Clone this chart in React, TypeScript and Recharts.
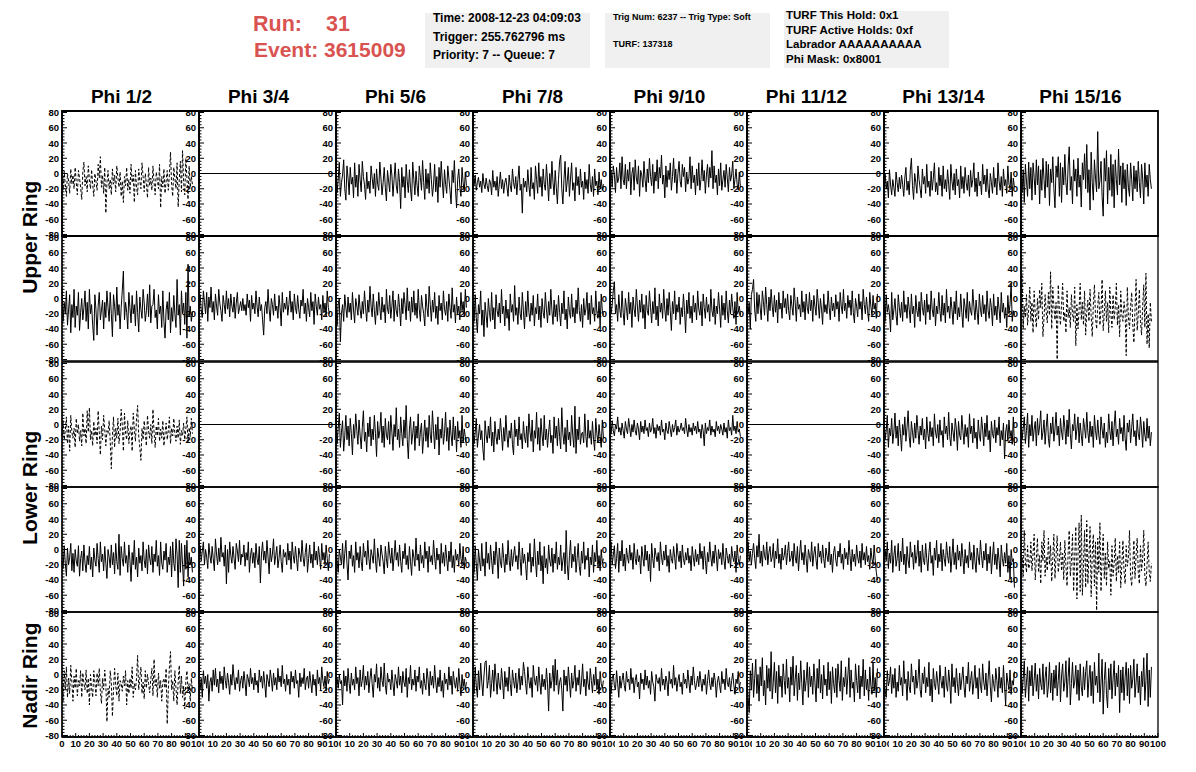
import { LineChart, Line, XAxis, YAxis, ReferenceArea } from "recharts";

// sample spacing of the waveforms (ns)
const DT = 0.8;

// channels that were off are flat at zero across the window
const FLAT_T = [0, 100];
const FLAT_V = [0, 0];

// --- Upper ring, top antennas ---
const UT_12 = [
  -5, -22, 3, -15, -30, 0, -10, -26, 6, -14,
  -2, -20, 8, -12, -28, 4, -6, -18, -34, 2,
  15, -16, -4, -24, 10, -8, -20, 5, -14, -30,
  0, -10, -22, 12, -6, 22, -18, -2, -26, 8,
  -52, -12, 4, -20, -8, -28, 6, -14, -2, -24,
  10, -6, -18, 2, -30, -10, -38, -4, -16, 8,
  -22, -8, -26, 12, -12, -2, -38, 4, -18, -28,
  6, -10, -20, 14, -4, -24, 0, -14, -32, 8,
  -16, -6, -22, 10, -12, -28, 2, -8, -20, 12,
  -45, -4, -18, 6, -26, -10, 4, -22, -2, 28,
  -14, -30, 8, -6, -20, 14, -44, -8, 16, -24,
  30, -12, -28, 20, -6, -34, 10, -18, -4, -14,
];
const UT_56 = [
  5, -25, -8, 15, -30, -12, -2, 18, -20, -35,
  10, -6, -28, 8, -14, -5, -32, 14, -18, -2,
  -30, 12, -8, -24, 16, -4, -15, -34, 2, -20,
  -10, -26, 10, -6, -20, 0, -30, 6, -14, -22,
  15, -6, -28, -12, 8, -18, -36, 4, -10, -24,
  12, -2, -30, -8, 14, -16, -26, 6, -12, -46,
  8, -18, -4, -32, 12, -10, -25, 5, -20, -36,
  15, -8, -28, 3, -16, -30, 10, -5, -22, 17,
  -12, -34, 6, -20, 0, -26, 14, -8, -30, -15,
  12, -24, -4, -38, 8, -18, 16, -10, -32, 5,
  -14, -26, 10, -6, -22, -40, 4, -12, 17, -20,
  -45, -8, 6, -18, -30, 8, -12, -24, 2, -16,
];
const UT_78 = [
  -8, -15, -2, -22, -12, -5, -18, -10, -25, 0,
  -14, -20, -6, -16, -24, -8, -12, -28, 4, -18,
  -10, -22, -4, -30, -14, 2, -20, -8, -26, -12,
  -6, -18, -30, -2, -16, -24, 6, -12, -20, -4,
  -28, -8, 10, -22, -14, -52, -6, -18, -10, -24,
  5, -16, -30, 8, -20, -12, -34, 10, -8, -26,
  14, -18, -4, -30, 6, -14, -22, 12, -10, -36,
  0, -20, 16, -12, -28, 4, -18, -40, -8, 16,
  24, -20, -40, -8, 16, -24, -10, 8, -30, -6,
  14, -22, -12, -36, 8, -16, -4, -28, 6, -18,
  -10, -34, 2, -20, -8, -26, 12, -14, -24, -4,
  -30, 6, -16, -10, -28, 2, -20, -8, -22, -14,
];
const UT_910 = [
  -5, 4, -18, 10, -2, -25, 8, -12, -6, 14,
  -20, 22, -8, -15, 12, -20, 5, -10, 15, -28,
  0, 8, -22, 18, -6, -14, 10, -30, 4, -2,
  -18, 16, -8, -24, 6, -12, 20, -4, -16, 12,
  -26, 2, -10, 18, -20, 8, -6, 24, -14, -2,
  -32, 10, -18, 4, -8, 14, -22, -4, 20, -12,
  6, -26, 0, 16, -10, -18, 12, -4, 8, -24,
  2, -14, -6, 22, -20, 10, -12, -2, -28, 6,
  -16, 14, -22, -8, 18, -10, 4, -26, -2, 12,
  -18, 8, -6, 30, -20, 10, -12, -2, -28, 6,
  -16, 14, -22, -8, 4, -18, 12, -6, -24, 8,
  -10, -2, 16, -20, -8, 6, -14, -22, 2, -18,
];
const UT_1314 = [
  -25, 0, -20, -10, -32, 5, -15, -28, -8, -18,
  -30, 2, -12, -24, -5, -20, -2, -14, -30, -6,
  8, -22, -10, -28, 4, 20, -16, -34, 0, -12,
  -26, 10, -8, -20, -32, 6, -14, -4, -26, 12,
  -18, -10, -30, 3, -22, -6, 14, -24, -12, -28,
  8, -16, -2, -30, 10, -20, -8, -24, 5, -14,
  -34, 12, -10, -22, 0, -28, 6, -16, -8, -32,
  10, -20, -4, -26, 8, -12, -22, -2, -30, 4,
  -18, -8, 14, -24, -6, -30, 2, -16, -10, -28,
  12, -14, -2, -24, 6, -20, -32, 0, -12, -26,
  8, -18, -6, -28, 14, -10, -22, -4, -30, 6,
  -16, -8, -26, 10, -14, -20, 2, -30, -6, -18,
];
const UT_1516 = [
  10, -25, 5, -38, 12, -10, -30, 15, -20, 8,
  -35, 14, -5, -28, 18, -15, 10, -40, 5, -22,
  20, -8, -32, 16, -18, 12, -42, 6, -12, 22,
  -20, -45, 10, -5, 22, -30, 14, -38, 8, -15,
  25, -12, -28, 10, 35, -22, -4, -40, 18, -10,
  6, -30, 20, -18, -2, -44, 14, -8, 26, -20,
  38, -25, 5, -48, 28, -12, -35, 18, -6, -24,
  55, -20, -10, 16, -30, -56, 20, -10, 30, -40,
  8, -22, 25, -30, 12, -45, 18, -8, -28, 32,
  -15, 10, -38, 14, -20, 5, -42, 12, -18, -30,
  14, -8, -36, 10, -20, 4, -24, 16, -12, -32,
  12, -6, -40, 14, -18, -2, -30, 12, -8, -20,
];

// --- Upper ring, bottom antennas ---
const UB_12 = [
  15, -30, -5, -20, 10, -35, -15, 5, -45, -8,
  -25, 12, -38, -10, -22, 8, -42, -18, 0, -28,
  -12, 10, -30, -5, -40, 12, -20, -8, -35, -55,
  5, -15, -48, -10, 8, -28, -15, -2, -40, -5,
  -25, 10, -12, -30, 8, -20, -50, 5, -10, -30,
  15, -22, -8, -40, -12, 10, 36, -28, -5, -18,
  -40, 8, -12, -32, 4, -20, -8, -36, 10, -18,
  -44, 2, -14, -26, 12, -6, -30, -16, 6, -24,
  18, -32, -10, -8, 12, -25, -15, -40, 5, -20,
  -10, -38, 10, -30, -52, -15, -4, -28, 8, -45,
  -12, -30, 4, -20, -38, 25, -22, -8, -48, 10,
  -20, -6, -34, 8, -52, 45, -24, -10, -30, -18,
];
const UB_34 = [
  -10, 5, -15, -25, 10, -5, -20, 8, -30, 2,
  -12, 15, -18, -4, -28, 6, -10, -22, 12, -6,
  -16, -30, 4, -8, -20, 10, -14, 0, -24, 6,
  -10, -18, 2, -26, -6, 8, -20, -12, -4, -16,
  0, -16, -8, -22, 6, -12, -2, -30, 4, -14,
  -6, -20, 10, -10, -24, 2, -16, -8, -28, -48,
  -12, -4, -20, 12, -14, -30, 0, -8, -22, 6,
  -16, -10, -26, 4, -12, -36, 8, -18, -6, -14,
  2, -22, -8, 10, -18, -4, -28, 6, -12, -20,
  4, -14, -26, -2, -10, 12, -20, -6, -30, 0,
  -12, -24, 8, -16, -4, -34, 6, -10, -22, 2,
  -14, -8, -28, 4, -18, -6, -24, 10, -12, -20,
];
const UB_56 = [
  -15, -35, -8, 0, -57, -20, -8, -30, 5, -12,
  -25, 2, -18, -6, -28, 8, -15, -32, 0, -10,
  -22, 5, -14, -26, -4, -20, 10, -12, -30, -2,
  -18, 16, -10, -24, 6, -16, -34, -4, -22, 8,
  -12, -28, 2, -18, -8, -32, 12, -14, -20, 4,
  -26, -10, 10, -30, -2, -16, -24, 6, -12, -36,
  0, -20, 8, -8, -28, 14, -16, -4, -30, 2,
  -18, 10, -22, -6, -26, 12, -14, -30, 4, -10,
  -20, -36, 6, -12, -24, 16, -8, -30, -2, -18,
  8, -26, -10, -34, 4, -16, -6, -28, 10, -14,
  -22, -4, -30, 6, -12, -26, 14, -18, -8, -32,
  2, -20, -10, -28, 8, -16, -4, -24, 12, -12,
];
const UB_78 = [
  -10, -30, 5, -25, -45, -8, -20, 10, -35, -15,
  -50, -5, -22, -38, 0, -18, -30, 8, -28, -12,
  -40, 5, -16, -24, -6, -32, 12, -20, -10, -36,
  -2, -26, -14, -42, 6, -18, -8, -30, 17, -22,
  -12, -34, 2, -20, -28, 8, -16, -40, -4, -24,
  10, -18, -30, -6, -22, 4, -36, -12, -20, 6,
  -28, -10, -38, 0, -18, -26, 8, -14, -32, -4,
  -22, 12, -16, -34, -2, -24, -8, -30, 4, -18,
  -36, -6, -20, 10, -28, -14, -40, 2, -18, -26,
  6, -24, -12, -32, -2, -20, 14, -16, -30, -8,
  -38, 0, -22, -14, 8, -28, -6, -34, 4, -20,
  -12, -30, 10, -18, -26, -4, -36, 6, -16, -22,
];
const UB_910 = [
  -5, -20, -8, 10, 22, -20, -8, -30, 5, -15,
  -25, 10, -18, -35, 0, -12, -28, 8, -20, -5,
  -38, 2, -14, -24, 12, -10, -30, -2, -18, 6,
  -26, -8, -40, 4, -16, -22, 10, -12, -32, -4,
  -20, 14, -28, -10, -36, 6, -18, -6, -26, 12,
  -14, -30, 0, -22, 8, -16, -42, -4, -20, 10,
  -28, -8, -18, 2, -34, -12, -24, 6, -16, -45,
  -2, -20, 8, -26, -10, -32, 4, -18, -6, -28,
  10, -14, -22, -4, -36, 6, -12, -26, 2, -18,
  -8, -30, 12, -16, -24, 0, -34, -10, -20, 8,
  -14, -38, 4, -22, -6, -28, 10, -16, -32, -2,
  -20, 6, -12, -26, -4, -34, 8, -18, -10, -22,
];
const UB_1112 = [
  -10, -20, -5, -40, 5, 12, 25, -15, -30, 8,
  -20, 5, -12, -28, 10, -4, -22, 15, -8, -30,
  2, -16, 12, -10, -24, 4, -18, -2, -32, 8,
  -14, -6, -26, 10, -12, 0, -20, 6, -16, -28,
  4, -10, -22, 14, -6, -30, 2, -14, -8, -24,
  10, -18, -4, -28, 6, -12, -20, 8, -16, -2,
  -30, 4, -10, -22, 12, -6, -26, 0, -14, -34,
  6, -18, -8, -20, 10, -12, -28, 2, -16, -6,
  -24, 5, -14, -4, -30, 8, -10, -20, 12, -16,
  -6, -26, 4, -12, -2, -22, 10, -18, -32, 0,
  -10, -24, 6, -14, -4, -28, 12, -8, -20, 2,
  -16, -30, 8, -10, -22, 4, -14, -6, -26, 6,
];
const UB_1314 = [
  -10, -30, 5, -18, -8, -20, -44, 8, -28, -15,
  0, -22, -35, 5, -12, -25, -5, -30, 10, -18,
  -8, -26, 2, -14, -32, 6, -20, -10, -38, 4,
  -16, -24, -4, -30, 8, -12, -22, -2, -34, 6,
  -18, -8, -28, 10, -14, -24, 0, -36, -10, -20,
  8, -16, -30, 4, -22, -6, -32, 12, -18, -10,
  -26, 2, -14, -34, -4, -20, 10, -28, -12, -24,
  6, -18, -38, 0, -12, -26, 8, -30, -4, -16,
  -22, 12, -10, -28, -2, -18, -34, 6, -14, -24,
  4, -20, -8, -30, 10, -16, -26, 0, -12, -36,
  6, -22, -10, -28, 2, -14, -32, 8, -18, -6,
  -26, -12, -38, 4, -20, -8, 20, -30, -16, -22,
];
const UB_1516 = [
  15, 30, -40, -10, -25, 5, -35, -15, 15, -30,
  -5, -45, 10, -20, -38, 0, -28, 12, -12, 20,
  -50, -25, 5, -18, -32, 8, -22, 35, -40, 15,
  -10, -28, -5, -80, 18, -15, -35, -8, 20, -30,
  -18, -45, 10, -25, -12, -38, 5, -20, -30, 15,
  -62, -8, -40, -15, 20, -28, -5, -35, 10, -48,
  -18, -2, -30, 12, -22, -50, -8, 18, -25, -40,
  -10, 8, -35, -15, 25, -42, -20, 10, -30, -5,
  -45, 15, -20, -38, 5, -28, -12, 20, -35, -8,
  -50, 10, -22, -30, -4, -18, -75, 15, -25, -40,
  -10, 8, -35, -58, -15, 25, -42, -20, 12, -30,
  -48, -10, 18, -38, 33, -60, -20, -65, -5, -30,
];

// --- Lower ring, top antennas ---
const LT_12 = [
  -15, 5, -20, -8, 10, -25, -2, -35, 12, -10,
  -18, -5, -30, 8, -12, 0, -22, -8, -28, 15,
  -15, -5, -25, 18, -10, 22, -20, -8, -28, 4,
  -15, -5, -25, 18, -10, -40, -2, -20, 12, -6,
  -28, -8, -12, 5, -22, -58, -15, 10, -30, -5,
  -18, 8, -25, -10, 20, -2, -35, 15, -12, -20,
  5, -25, -10, -2, -35, 15, -6, -22, 8, 25,
  -15, -30, -47, -5, -20, 5, -12, -28, 12, -8,
  -18, 0, -25, 20, -10, -30, -2, -15, 8, -22,
  -6, -18, 5, -28, -12, 2, -20, -8, 10, -25,
  -5, -15, 8, -12, -22, -2, -18, 6, -26, -8,
  -14, 2, -20, -6, 10, -24, -4, -16, 8, -12,
];
const LT_56 = [
  10, -25, -5, 15, -30, -10, 5, -35, -15, 12,
  -20, -2, -28, 8, -12, -40, 0, -18, 14, -8,
  -26, 6, -14, -32, -4, 18, -22, -10, -36, 2,
  -16, 10, -28, -6, -20, 12, -12, -42, 4, -18,
  -8, 16, -24, -2, -30, 8, -14, -20, 4, -26,
  12, -10, -34, 0, -16, 22, -20, -6, -30, 10,
  -12, -28, 6, -18, 25, -20, -45, -6, 10, -26,
  -12, 4, -34, -2, -18, 14, -28, -10, 2, -38,
  -16, 6, -22, -4, -30, 12, -14, -24, 18, -8,
  -32, 0, -20, 10, -40, -6, -18, 8, -26, -12,
  16, -22, -4, -34, 6, -14, -28, 10, -20, -2,
  -36, 4, -18, -8, -30, 12, -24, -6, -16, -28,
];
const LT_78 = [
  -5, -25, -10, 8, -30, -15, 0, -20, -8, -32,
  -47, 5, -14, -24, -2, -18, 10, -28, -10, -36,
  4, -16, -26, -6, -20, 8, -12, -34, -4, -22,
  12, -14, -30, -8, -18, 2, -26, -40, 6, -16,
  -6, -28, 10, -20, -12, -32, 4, -16, -24, -2,
  -30, 14, -10, -22, 6, -36, -8, -18, 16, -26,
  -4, -34, 8, -14, -28, 12, -20, -6, -30, -10,
  6, -24, -14, -38, 10, -18, -2, -28, 8, -16,
  -32, 22, -12, -26, -4, -36, 6, -20, -10, -28,
  12, -14, -30, 24, -38, -6, -20, 10, -26, -12,
  -10, -24, 14, -16, -30, 6, -18, -8, -26, 4,
  -20, -34, 8, -12, -24, 0, -16, -30, 6, -18,
];
const LT_910 = [
  -2, -12, 5, -8, -15, 0, -6, 10, -10, -4,
  -14, 2, -8, -18, 4, -6, -12, 8, -4, -16,
  0, -10, 6, -8, -14, 2, -6, -20, 4, -10,
  -2, -12, 6, -8, -4, -16, 2, -10, -6, 8,
  -12, -4, -18, 0, -8, -2, -14, 6, -10, -6,
  -20, 2, -8, -12, 4, -6, -16, 0, -10, -4,
  6, -14, -2, -10, -6, 2, -8, -4, -12, 8,
  -6, -16, 0, -10, -4, -14, 2, -8, -2, -12,
  4, -10, -6, -18, 0, -8, -28, 2, -12, -4,
  -8, 6, -14, -2, -10, -6, -16, 4, -8, -2,
  -12, 0, -6, -14, 2, -10, -4, -18, 6, -8,
  -4, -14, 12, -8, -2, -12, 4, -10, -6, -16,
];
const LT_1314 = [
  5, -20, -8, 12, -30, -5, -15, 8, -25, -10,
  15, -18, -2, -28, 6, -12, -35, 0, -14, 10,
  -22, -4, 18, -16, -30, 4, -10, -24, 2, -18,
  12, -8, -26, -2, -14, 8, -20, -6, -32, 10,
  -12, -22, 4, -16, -4, -28, 14, -10, -18, 0,
  -24, 6, -14, -8, -30, 10, -12, -2, -20, 16,
  -16, -28, 2, -10, -22, 8, -6, -34, 4, -14,
  -20, 12, -8, -26, 0, -16, -4, -30, 14, -12,
  -2, -24, 8, -18, -10, -32, 6, -14, -22, 10,
  -6, -28, 2, -16, 12, -20, -8, -36, 4, -12,
  -18, 6, -24, -4, -14, 10, -28, -8, -20, 2,
  -45, -10, 0, -22, 6, -16, -8, -26, 10, -28,
];
const LT_1516 = [
  5, -20, -5, 10, -25, -8, 15, -30, 0, -15,
  12, -22, -6, 4, -28, 8, -14, -2, 18, -20,
  -10, 6, -26, -4, 14, -18, -30, 2, -12, 10,
  -22, -6, 16, -14, -2, -28, 8, -10, -20, 12,
  -4, -26, 6, -16, 20, -12, -32, 0, -8, 14,
  -20, -6, 10, -24, 2, -14, -28, 8, -4, -18,
  16, -10, -24, 4, -16, -2, -30, 12, -8, -20,
  6, -14, -26, 10, -6, -18, 2, -30, -10, -24,
  14, -8, -20, 4, -28, -2, 18, -16, -6, -26,
  8, -12, -4, -22, 12, -18, -34, 2, -10, 6,
  -24, -4, 14, -16, -8, -28, 6, -12, -20, 10,
  -6, -30, 4, -14, -22, 8, -18, -2, -28, -10,
];

// --- Lower ring, bottom antennas ---
const LB_12 = [
  -15, -25, 5, -18, -35, 2, -20, -10, 8, -28,
  -5, -30, 0, -15, -22, 5, -35, -12, -2, -28,
  6, -18, -30, -8, -20, 4, -26, -10, -36, 2,
  -14, -22, 8, -12, -30, 10, -16, -6, -28, 4,
  -18, -38, 0, -10, -24, 6, -20, -4, -32, 8,
  -16, -26, 20, -34, 4, -12, -22, 10, -18, -8,
  -30, 6, -14, -42, -4, -20, 12, -26, -10, -36,
  2, -18, -8, -28, 10, -14, -24, 0, -32, 6,
  -12, -20, 4, -30, -6, -16, 12, -22, -8, -34,
  10, -18, -26, -2, -14, 8, -30, -10, -20, 4,
  -36, 10, -18, -28, 14, -6, -50, 12, -30, 8,
  -20, -48, 6, -26, 12, -36, -4, -20, -10, -30,
];
const LB_34 = [
  -5, 5, -15, -2, 10, -20, 0, -10, -25, 8,
  -8, -18, 4, -12, -28, 14, -6, -20, 2, -16,
  16, -10, -4, -22, 6, -45, 0, -30, 10, -8,
  -18, 4, -12, -26, 8, -2, -16, 12, -20, -6,
  -10, 6, -22, -4, -14, 10, -30, -8, 2, -18,
  -4, -24, 8, -12, -20, 4, -44, -6, 10, -14,
  -2, -18, 12, -10, -32, 2, -16, -6, 14, -20,
  -8, 4, -24, -12, 6, -16, -30, 0, -10, -4,
  -20, 8, -14, -2, -26, 10, -8, -18, 4, -12,
  -28, 2, -6, -16, 12, -10, -22, -4, 8, -30,
  -12, 6, -18, -6, -24, 10, -14, -2, -20, 4,
  -10, -26, 8, -14, -4, -20, 6, -12, -28, -6,
];
const LB_56 = [
  5, -15, -30, 0, -10, -20, 8, -25, -5, 12,
  -18, -40, -2, -12, 6, -22, -8, -30, 10, -14,
  -4, -24, 4, -16, -28, 8, -10, -2, -20, 12,
  -12, -26, 0, -8, -18, 14, -14, -30, 2, -10,
  -22, 6, -6, -16, -32, 4, -12, -24, 10, -6,
  -18, 2, -28, -10, 12, -14, -4, -22, 6, -16,
  -30, -2, -12, 8, -20, -8, -26, 4, -16, -34,
  0, -10, -22, 15, -14, -6, -28, 6, -18, -8,
  -24, 10, -12, -2, -30, 4, -16, -8, -20, 12,
  -10, -26, 2, -14, -6, -32, 8, -18, -4, -22,
  6, -12, -28, -2, -16, 10, -24, -8, -30, 0,
  -14, -6, -22, 8, -12, -20, 4, -26, -10, -16,
];
const LB_78 = [
  -10, -30, 5, -20, -40, 0, -15, -28, 8, -22,
  -12, -35, 10, -18, -5, -26, 6, -14, -32, -2,
  -20, 10, -10, -38, 2, -16, -24, 8, -12, -30,
  -6, -20, 12, -14, -28, 0, -22, -8, 4, -16,
  -8, -26, 10, -12, -34, 2, -18, -6, -20, -40,
  -4, -16, 8, -30, -10, -22, 14, -14, -36, -2,
  -20, 10, -28, -8, -45, 4, -24, -12, -32, 6,
  -14, -22, 2, -30, -6, -18, 10, -26, -10, -20,
  6, -28, -14, -4, -32, 25, -20, -40, -8, 12,
  -24, -6, -16, 4, -30, -12, 8, -22, -34, -2,
  -18, 10, -26, -8, -14, 2, -36, -10, -20, 6,
  -30, -4, -16, 12, -22, -8, -28, 0, -18, -12,
];
const LB_910 = [
  -5, 10, -20, -8, 5, -25, -12, 8, -30, -2,
  -15, 12, -22, -6, -28, 2, -10, -18, 6, -14,
  -4, -26, 8, -12, -20, 0, -16, -8, -32, 4,
  -10, -22, 6, -14, -2, -28, -6, -42, 8, -12,
  -24, 2, -8, -16, -4, -28, 10, -10, -20, -2,
  -14, 6, -22, -8, -30, 0, -12, -18, 4, -10,
  -26, 8, -6, -16, -2, -24, 6, -12, -20, -4,
  -14, 2, -18, -8, -28, 4, -10, -22, 0, -16,
  -6, -20, 8, -12, -2, -26, 4, -14, -32, -4,
  -16, 10, -10, -22, -2, -18, 6, -8, -28, 0,
  -12, -4, -20, 8, -14, -26, 2, -8, -18, -6,
  -24, 4, -10, -16, -2, -30, 6, -12, -20, -8,
];
const LB_1112 = [
  -5, 10, -15, -2, -20, -5, 8, -12, -25, 5,
  -10, 20, -18, -2, -22, 6, -8, -14, 10, -20,
  -4, 4, -16, -10, 8, -24, -2, -12, 14, -18,
  -6, -26, 2, -14, -8, 6, -20, -4, 10, -16,
  -12, -2, -22, 8, -10, -18, 4, -28, -6, 12,
  -14, -4, -20, 6, -12, -30, 0, -8, -16, 10,
  -22, -6, 4, -14, -26, 8, -10, -2, -18, 6,
  -12, -24, 2, -8, -16, 10, -20, -6, -30, -4,
  4, -14, -22, -2, -10, 8, -18, -6, -26, 2,
  -12, -4, -20, 12, -8, -28, 0, -16, -6, -22,
  6, -10, -18, -2, -24, 8, -14, -4, -20, 4,
  -16, -8, -26, 2, -12, -20, 6, -14, -30, -40,
];
const LB_1314 = [
  -20, 0, -15, 10, -25, -5, -18, 12, -30, -8,
  5, -22, -12, 8, -28, -2, -16, 15, -20, -6,
  -32, 4, -14, -24, 10, -10, -4, -26, 6, -18,
  -8, 12, -22, -2, -30, 6, -14, -20, 8, -12,
  -28, -4, 10, -18, -8, -34, 2, -14, 12, -24,
  -6, -16, 8, -28, 0, -12, -22, 10, -8, -18,
  4, -30, -10, 14, -20, -4, -26, 6, -14, -2,
  -22, 8, -12, -32, 0, -18, -8, -24, 10, -14,
  -4, -26, 6, -16, -30, 2, -10, -20, 12, -8,
  -24, -2, -14, 8, -28, -6, -18, 4, -32, -10,
  10, -20, -6, -26, 2, -14, -36, 6, -12, -22,
  -4, -18, 8, -30, -8, -38, 0, -16, -12, -50,
];
const LB_1516 = [
  -40, -10, -35, 25, -15, -30, 5, -25, -20, 10,
  -28, -5, 20, -40, -12, 15, -30, -8, -45, 10,
  -15, 25, -35, -10, -28, 15, -20, 5, -42, -12,
  20, -38, -8, 18, -30, -15, 10, -28, -5, -40,
  12, -22, -48, -5, 25, -35, -15, 20, -55, -10,
  30, -65, -8, 35, -55, 45, -60, -20, 25, -50,
  38, -45, -10, 30, -62, -5, 20, -48, 10, -80,
  15, -30, 35, -55, -10, 20, -38, -5, -48, 10,
  -25, -15, -60, 5, -35, -18, 15, -42, -8, -30,
  10, -50, -20, 12, -28, -45, 5, -22, -10, 25,
  -35, -48, -20, 12, -38, -8, 15, -30, -45, 5,
  -28, -12, 25, -35, -48, -20, 10, -30, -42, -18,
];

// --- Nadir ring ---
const NA_12 = [
  -15, -35, 5, -20, 10, -30, -5, -25, 12, -10,
  -35, -2, -18, 8, -28, -8, -15, 5, -30, 2,
  -12, -20, 6, -25, -5, -40, 0, -18, -30, 5,
  -10, -28, 2, -15, 8, -22, -38, -5, -20, 6,
  -12, -62, -18, -30, 5, -10, -55, -20, 8, -15,
  -28, 2, -35, -8, -12, -22, -2, -15, 5, -40,
  -8, -25, -5, -18, 10, -30, -12, -20, -5, 25,
  -20, -5, 10, -25, -10, -32, 5, -18, 0, -12,
  -24, -6, 8, -28, 20, -15, -5, -30, 2, -18,
  -8, -35, -10, -5, -18, 8, -65, -20, 10, 30,
  -20, -8, -35, 5, -18, -40, -10, 12, -25, -2,
  -30, -15, -45, -8, 5, -22, -12, -35, -5, -20,
];
const NA_34 = [
  -8, -20, -5, -30, 5, -12, -2, -18, 0, -35,
  -10, -4, -22, 6, -14, 8, -16, -6, -24, 4,
  -12, -2, -20, 10, -8, -18, 2, -10, -26, 0,
  -14, 13, -6, -20, -4, -12, 6, -22, -8, -2,
  -18, 4, -10, -28, 0, -6, -16, 8, -12, -4,
  -20, 2, -14, -8, -24, 6, -10, -2, -18, 4,
  -12, -30, 0, -8, -16, 6, -6, -22, 2, -14,
  -4, -20, 8, -10, -2, -16, 12, -12, -6, -22,
  0, -14, -6, -26, 4, -10, -2, -18, 6, -12,
  -8, -30, 2, -16, -4, -12, 8, -20, -6, -2,
  -18, 4, -10, -24, 0, -14, -6, -28, 6, -12,
  -4, -20, 10, -8, -16, -2, -22, 4, -12, -6,
];
const NA_56 = [
  -10, -5, -18, 0, -12, -8, -40, 5, -15, -2,
  -22, 8, -12, -25, 2, -14, -6, -20, 10, -12,
  -4, -28, 6, -16, -8, 12, -20, -2, -14, 4,
  -24, -6, 8, -12, -30, 0, -10, 14, -18, -4,
  -22, 10, -8, -16, 15, -14, -26, 2, -10, -6,
  -20, 6, -12, -28, 0, -8, -18, 10, -14, -2,
  -24, 4, -10, -16, 8, -30, -4, -12, 12, -20,
  -6, -14, 6, -22, -2, -10, 10, -18, -8, -26,
  2, -12, -20, 8, -6, -28, 4, -14, -2, -18,
  12, -10, -24, -4, -16, 6, -22, -8, -30, 2,
  -12, -6, -20, 10, -14, -2, -26, 4, -10, -18,
  -4, -22, 8, -12, -28, 0, -16, -6, -20, -10,
];
const NA_78 = [
  -5, -25, 10, -15, -30, 5, -20, 15, -10, -28,
  -2, 16, 18, -18, -8, 12, -30, -12, 6, -22,
  14, -6, -26, 2, -14, -20, 8, -10, -32, 4,
  -16, -4, -22, 10, -12, -28, 6, -8, -18, 2,
  -24, -10, 8, -20, -2, -14, 16, 4, -12, -26,
  10, -8, -18, -4, -30, 12, -6, -14, -2, -22,
  10, -10, -26, 0, -16, -6, -20, 8, -12, -48,
  2, -18, -8, 12, -22, 20, -14, 6, -26, -10,
  -4, -20, -48, 6, -14, -2, -22, 10, -10, -30,
  2, -18, -8, 12, -22, -4, -14, 6, -26, -10,
  14, -16, -6, -28, 4, -12, -20, 8, -8, -24,
  0, -14, 10, -20, -6, -26, 4, -12, -18, -8,
];
const NA_910 = [
  -10, -25, -5, 0, -15, -20, 5, -12, -30, -2,
  -18, -8, 2, -14, -22, 4, -10, -6, -20, 8,
  -12, -4, -24, -8, 0, -16, -10, -32, 2, -12,
  -6, -20, 6, -14, -2, -18, -8, -26, 4, -10,
  -16, -35, 0, -8, -12, -4, -22, 8, -14, -6,
  -20, -2, -10, -28, 4, -12, -6, -18, 12, -14,
  -4, -22, -8, 0, -16, -10, -26, 2, -12, -6,
  -18, 6, -10, -24, -2, -14, 10, -8, -20, -12,
  -2, -16, 4, -10, -22, -6, -14, 0, -26, -8,
  6, -12, -20, -4, -16, 2, -8, -30, -10, -2,
  -14, -24, 4, -12, -6, -20, 8, -10, -16, -4,
  -22, -8, 2, -14, -26, -6, -12, 4, -18, -10,
];
const NA_1112 = [
  -10, -30, -50, 5, -20, 15, -30, -5, 20, -25,
  0, -35, 10, -15, 22, -28, -8, -40, 12, -18,
  8, -22, 30, -32, -10, 16, -24, 4, -38, 12,
  -16, -2, -30, 14, -8, -26, 20, -18, -4, -36,
  10, -14, 24, -28, -6, 12, -34, 2, -20, 18,
  -12, -40, 6, -22, -8, 16, -30, 10, -16, -2,
  -26, 14, -10, -36, 8, -18, 20, -24, 0, -32,
  12, -14, -6, -28, 16, -20, 4, -38, 10, -12,
  -24, 8, -30, 14, -8, -22, 18, -34, -4, -16,
  10, -26, -2, 22, -30, 6, -18, -10, -36, 14,
  -8, -24, 12, -32, -2, -16, 20, -28, 6, -20,
  -6, -34, 10, -14, -26, 16, -22, -4, -30, 8,
];
const NA_1314 = [
  -5, -20, -30, 5, -15, -8, 10, -25, 0, -18,
  8, -30, -10, -22, 12, -14, -4, -28, 18, -12,
  -6, -34, 4, -16, -24, 14, -10, -2, -26, 6,
  -18, -8, 20, -20, -30, 2, -12, 10, -24, -4,
  -16, 16, -28, -6, -36, 8, -12, -20, 4, -10,
  -26, 12, -8, -18, -2, -30, 10, -14, -22, 6,
  -10, -38, 14, -16, -4, -24, 8, -12, -28, 2,
  -20, -6, 10, -16, -30, -2, -12, 16, -22, -8,
  4, -26, -10, 12, -18, -4, -32, 8, -14, -24,
  14, -10, -20, 2, -28, -6, 18, -16, -36, 0,
  -12, -22, 8, -8, -30, 10, -18, -4, -24, 12,
  -16, -40, 2, -10, -20, 6, -26, -8, -14, 4,
];
const NA_1516 = [
  15, -25, -5, 18, -30, -10, 10, -35, 5, -15,
  12, -28, -8, 15, -22, 0, -32, 8, -12, -20,
  14, -26, -4, 10, -30, -15, 16, -24, 2, -34,
  6, -18, 12, -28, -8, 16, -36, -2, 14, -22,
  -10, 18, -30, -4, 22, -40, -12, 16, -18, -10,
  12, -26, 6, -34, 14, -16, -28, 10, -20, 4,
  18, -30, -6, 12, -28, 4, -38, 16, -14, -2,
  -24, 28, -36, -10, 20, -52, -8, 16, -26, -44,
  8, -20, 14, -32, -6, 18, -28, 2, -16, 12,
  -50, 6, -24, 10, -34, -4, 16, -28, 8, -38,
  12, -18, -6, 20, -30, -10, 14, -24, -2, -40,
  4, -16, 22, -34, -8, 28, -42, 6, -30, 10,
];

const PHI_LABELS = ["Phi 1/2", "Phi 3/4", "Phi 5/6", "Phi 7/8", "Phi 9/10", "Phi 11/12", "Phi 13/14", "Phi 15/16"];
const RING_LABELS = ["Upper Ring", "Lower Ring", "Nadir Ring"];
const RING_ROWS = [[0, 2], [2, 4], [4, 5]];

// null = channel off (flat line); dashed = the trigger-phi channel
const ROWS = [
  { waves: [UT_12, null, UT_56, UT_78, UT_910, null, UT_1314, UT_1516], dashed: 0 },
  { waves: [UB_12, UB_34, UB_56, UB_78, UB_910, UB_1112, UB_1314, UB_1516], dashed: 7 },
  { waves: [LT_12, null, LT_56, LT_78, LT_910, null, LT_1314, LT_1516], dashed: 0 },
  { waves: [LB_12, LB_34, LB_56, LB_78, LB_910, LB_1112, LB_1314, LB_1516], dashed: 7 },
  { waves: [NA_12, NA_34, NA_56, NA_78, NA_910, NA_1112, NA_1314, NA_1516], dashed: 0 },
];

const RUN_INFO = ["Run:", "31"];
const EVENT_INFO = "Event: 3615009";
const TIME_INFO = ["Time: 2008-12-23 04:09:03", "Trigger: 255.762796 ms", "Priority: 7 -- Queue: 7"];
const TRIG_INFO = ["Trig Num: 6237 -- Trig Type: Soft", "TURF: 137318"];
const TURF_INFO = ["TURF This Hold: 0x1", "TURF Active Holds: 0xf", "Labrador AAAAAAAAAA", "Phi Mask: 0x8001"];

const Y_MAJOR = [-80, -60, -40, -20, 0, 20, 40, 60, 80];
const X_MAJOR = [0, 10, 20, 30, 40, 50, 60, 70, 80, 90, 100];
const Y_TICKS = Array.from({ length: 41 }, (_, i) => -80 + i * 4);
const X_TICKS = Array.from({ length: 51 }, (_, i) => i * 2);

// layout
const COL_LEFT = 62;
const COL_W = 137;
const ROW_TOP = 111;
const ROW_H = 125.25;
const PLOT_H = 125;
const LABEL_W = 30;
const PAD = 5;
const FONT = "'Liberation Sans', Arial, Helvetica, sans-serif";

function YTick(props: any) {
  const { x, y, payload } = props;
  const v = payload.value;
  const major = Y_MAJOR.includes(v);
  return (
    <g>
      <line x1={x} x2={x + (major ? 5 : 2.5)} y1={y} y2={y} stroke="#000" strokeWidth={1} />
      {major && (
        <text x={x - 3} y={y} dy={3.5} textAnchor="end" fontSize={9.5} fontWeight="bold" fontFamily={FONT} fill="#000">
          {v}
        </text>
      )}
    </g>
  );
}

function XTick(props: any) {
  const { x, y, payload, showLabel, first } = props;
  const v = payload.value;
  const major = X_MAJOR.includes(v);
  return (
    <g>
      <line x1={x} x2={x} y1={y} y2={y - (major ? 4 : 2)} stroke="#000" strokeWidth={1} />
      {showLabel && major && (v !== 0 || first) && (
        <text x={x} y={y + 10} textAnchor="middle" fontSize={9.5} fontWeight="bold" fontFamily={FONT} fill="#000">
          {v}
        </text>
      )}
    </g>
  );
}

function Panel({ values, row, col, dashed }: { values: number[] | null; row: number; col: number; dashed: boolean }) {
  const last = col === PHI_LABELS.length - 1;
  const bottom = row === ROWS.length - 1;
  const data = values
    ? values.map((v, i) => ({ t: i * DT, v }))
    : FLAT_T.map((t, i) => ({ t, v: FLAT_V[i] }));
  const extraR = last ? 12 : 0;
  const xH = bottom ? 14 : 0;
  return (
    <div
      style={{
        position: "absolute",
        left: COL_LEFT + col * COL_W - LABEL_W,
        top: Math.round(ROW_TOP + row * ROW_H) - PAD,
      }}
    >
      <LineChart
        width={LABEL_W + COL_W + PAD + extraR}
        height={PAD + PLOT_H + xH + PAD}
        data={data}
        margin={{ top: PAD, right: PAD + extraR, bottom: PAD, left: 0 }}
      >
        <XAxis
          dataKey="t"
          type="number"
          domain={[0, 100]}
          ticks={X_TICKS}
          interval={0}
          height={xH}
          tickSize={0}
          tickMargin={0}
          tickLine={false}
          axisLine={{ stroke: "#000", strokeWidth: 1.3 }}
          tick={(p: any) => <XTick {...p} showLabel={bottom} first={col === 0} />}
        />
        <YAxis
          type="number"
          domain={[-82, 82]}
          ticks={Y_TICKS}
          interval={0}
          width={LABEL_W}
          tickSize={0}
          tickMargin={0}
          tickLine={false}
          axisLine={{ stroke: "#000", strokeWidth: 1.2 }}
          tick={(p: any) => <YTick {...p} />}
        />
        <ReferenceArea
          x1={0}
          x2={100}
          y1={-82}
          y2={82}
          fill="none"
          stroke="#000"
          strokeWidth={row === 0 ? 1.8 : 1.3}
          ifOverflow="visible"
        />
        <Line
          type="linear"
          dataKey="v"
          stroke="#000"
          strokeWidth={1}
          strokeDasharray={dashed ? "3 2" : undefined}
          dot={false}
          isAnimationActive={false}
        />
      </LineChart>
    </div>
  );
}

function Header() {
  return (
    <svg width={1196} height={772} style={{ position: "absolute", left: 0, top: 0, pointerEvents: "none" }}>
      <g fontFamily={FONT} fontWeight="bold">
        <text x={253} y={31} fontSize={21.5} fill="#d95350">{RUN_INFO[0]}</text>
        <text x={326} y={31} fontSize={21.5} fill="#d95350">{RUN_INFO[1]}</text>
        <text x={254} y={57} fontSize={21} fill="#d95350">{EVENT_INFO}</text>

        <rect x={425} y={13} width={165} height={55} fill="#f0f0f0" />
        {TIME_INFO.map((t, i) => (
          <text key={t} x={433} y={22 + i * 18.5} fontSize={12} fill="#000">{t}</text>
        ))}

        <rect x={605} y={13} width={165} height={55} fill="#f0f0f0" />
        <text x={613} y={20} fontSize={9} fill="#000">{TRIG_INFO[0]}</text>
        <text x={613} y={47} fontSize={9} fill="#000">{TRIG_INFO[1]}</text>

        <rect x={784} y={11} width={165} height={57} fill="#f0f0f0" />
        {TURF_INFO.map((t, i) => (
          <text key={t} x={786} y={19 + i * 14.5} fontSize={11.5} fill="#000">{t}</text>
        ))}

        {PHI_LABELS.map((t, c) => (
          <text key={t} x={COL_LEFT + c * COL_W + COL_W / 2 - 9} y={103} fontSize={19} textAnchor="middle" fill="#000">
            {t}
          </text>
        ))}

        {RING_LABELS.map((t, i) => {
          const [a, b] = RING_ROWS[i];
          const cy = ROW_TOP + (ROW_H * (a + b)) / 2 + 1;
          return (
            <text key={t} transform={`translate(37,${cy}) rotate(-90)`} fontSize={21} textAnchor="middle" fill="#000">
              {t}
            </text>
          );
        })}
      </g>
    </svg>
  );
}

export default function App() {
  return (
    <div style={{ position: "absolute", left: 0, top: 0, width: 1196, height: 772, background: "#fff" }}>
      <Header />
      {ROWS.map((r, ri) =>
        r.waves.map((w, ci) => (
          <Panel key={`${ri}-${ci}`} values={w} row={ri} col={ci} dashed={r.dashed === ci} />
        ))
      )}
    </div>
  );
}
